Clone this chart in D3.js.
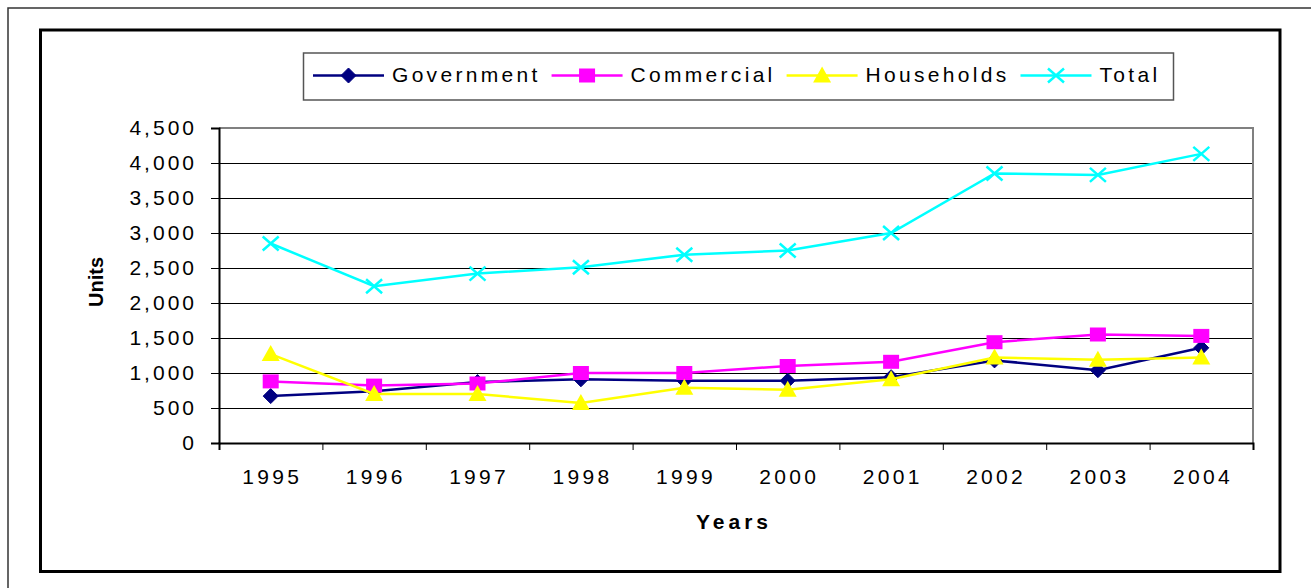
<!DOCTYPE html>
<html>
<head>
<meta charset="utf-8">
<script src="https://cdn.jsdelivr.net/npm/d3@7/dist/d3.min.js"></script>
<style>
  html, body { margin: 0; padding: 0; background: #fff; }
  svg { display: block; font-family: "Liberation Sans", Arial, sans-serif; }
</style>
</head>
<body>
<svg id="chart" width="1311" height="588"></svg>
<script>
// Units by sector, 1995-2004
const years = ["1995", "1996", "1997", "1998", "1999", "2000", "2001", "2002", "2003", "2004"];
const government = [670, 740, 870, 910, 890, 890, 940, 1180, 1040, 1360];
const commercial = [880, 820, 850, 1000, 1000, 1100, 1160, 1440, 1550, 1530];
const households = [1270, 700, 700, 570, 790, 760, 910, 1220, 1190, 1220];
const total = [2850, 2240, 2420, 2510, 2690, 2750, 3000, 3850, 3830, 4130];
const yTicks = [0, 500, 1000, 1500, 2000, 2500, 3000, 3500, 4000, 4500];

const series = [
  { name: "Government", values: government, color: "#000080", marker: "diamond" },
  { name: "Commercial", values: commercial, color: "#FF00FF", marker: "square" },
  { name: "Households", values: households, color: "#FFFF00", marker: "triangle" },
  { name: "Total", values: total, color: "#00FFFF", marker: "cross" }
];

const svg = d3.select("#chart");

// frames
svg.append("rect").attr("x", 8).attr("y", 8).attr("width", 1400).attr("height", 700)
  .attr("fill", "#fff").attr("stroke", "#333").attr("stroke-width", 1.5);
svg.append("rect").attr("x", 40.5).attr("y", 30).attr("width", 1239.5).attr("height", 541.5)
  .attr("fill", "#fff").attr("stroke", "#000").attr("stroke-width", 3);

const plot = { left: 219, right: 1253, top: 128, bottom: 443 };

const x = d3.scaleBand().domain(years).range([plot.left, plot.right]).padding(0);
const xEdge = d3.scaleLinear().domain([0, years.length]).range([plot.left, plot.right]);
const y = d3.scaleLinear().domain([0, 4500]).range([plot.bottom, plot.top]);
const cx = d => x(d) + x.bandwidth() / 2;

// gridlines
const grid = svg.append("g").attr("transform", `translate(${plot.left},0)`)
  .call(d3.axisLeft(y).tickValues(yTicks).tickSize(-(plot.right - plot.left)).tickFormat(""));
grid.select(".domain").remove();
grid.selectAll(".tick line").attr("stroke", "#000").attr("stroke-width", 1);

// plot border (top / right)
svg.append("path")
  .attr("d", `M${plot.left},${plot.top}H${plot.right}V${plot.bottom}`)
  .attr("fill", "none").attr("stroke", "#808080").attr("stroke-width", 2);

// y axis
const yAxis = svg.append("g").attr("transform", `translate(${plot.left},0)`)
  .call(d3.axisLeft(y).tickValues(yTicks).tickSize(8).tickPadding(14).tickFormat(d3.format(",")));
yAxis.select(".domain").attr("stroke", "#000").attr("stroke-width", 2);
yAxis.selectAll(".tick line").attr("stroke", "#000").attr("stroke-width", 1);
yAxis.selectAll("text").attr("font-size", 21).attr("fill", "#000")
  .style("letter-spacing", "3px").attr("font-family", "Liberation Sans, Arial, sans-serif");

// x axis: boundary ticks
const xTickAxis = svg.append("g").attr("transform", `translate(0,${plot.bottom})`)
  .call(d3.axisBottom(xEdge).tickValues(d3.range(0, years.length + 1)).tickSize(7).tickFormat(""));
xTickAxis.select(".domain").attr("stroke", "#000").attr("stroke-width", 2);
xTickAxis.selectAll(".tick line").attr("stroke", "#000").attr("stroke-width", 1);

// x axis: category labels
const xLabels = svg.append("g").attr("transform", `translate(0,${plot.bottom})`)
  .call(d3.axisBottom(x).tickSize(0).tickPadding(26));
xLabels.select(".domain").remove();
xLabels.selectAll("text").attr("font-size", 21).attr("fill", "#000")
  .style("letter-spacing", "3.3px").attr("font-family", "Liberation Sans, Arial, sans-serif")
  .attr("dx", "1.6");

// axis titles
svg.append("text").attr("x", 734).attr("y", 529).attr("text-anchor", "middle")
  .attr("font-size", 21).attr("font-weight", "bold").style("letter-spacing", "4px")
  .text("Years");
svg.append("text").attr("transform", "translate(103,282) rotate(-90)").attr("text-anchor", "middle")
  .attr("font-size", 20).attr("font-weight", "bold")
  .text("Units");

// marker drawing
function drawMarker(g, type, color) {
  if (type === "diamond") {
    g.append("path").attr("d", "M0,-7.5L7.5,0L0,7.5L-7.5,0Z").attr("fill", color).attr("stroke", color);
  } else if (type === "square") {
    g.append("rect").attr("x", -8).attr("y", -7).attr("width", 16).attr("height", 14).attr("fill", color);
  } else if (type === "triangle") {
    g.append("path").attr("d", "M0,-9L9,7L-9,7Z").attr("fill", color);
  } else if (type === "cross") {
    g.append("path").attr("d", "M-8,-7L8,7M-8,7L8,-7").attr("stroke", color)
      .attr("stroke-width", 2.5).attr("fill", "none");
  }
}

// series lines and markers
const line = d3.line().x((d, i) => cx(years[i])).y(d => y(d));
series.forEach(s => {
  const g = svg.append("g");
  g.append("path").datum(s.values).attr("d", line)
    .attr("fill", "none").attr("stroke", s.color).attr("stroke-width", 2.5);
  s.values.forEach((v, i) => {
    drawMarker(g.append("g").attr("transform", `translate(${cx(years[i])},${y(v)})`), s.marker, s.color);
  });
});

// legend
const legend = svg.append("g");
legend.append("rect").attr("x", 303.5).attr("y", 53).attr("width", 870).attr("height", 47)
  .attr("fill", "#fff").attr("stroke", "#555").attr("stroke-width", 1.5);
let lx = 313;
const ly = 75.5;
series.forEach(s => {
  legend.append("line").attr("x1", lx).attr("x2", lx + 71).attr("y1", ly).attr("y2", ly)
    .attr("stroke", s.color).attr("stroke-width", 2.5);
  drawMarker(legend.append("g").attr("transform", `translate(${lx + 35.5},${ly})`), s.marker, s.color);
  const t = legend.append("text").attr("x", lx + 79).attr("y", 81.5)
    .attr("font-size", 21).style("letter-spacing", "3.3px").attr("fill", "#000").text(s.name);
  lx = lx + 79 + t.node().getComputedTextLength() + 11;
});
</script>
</body>
</html>
